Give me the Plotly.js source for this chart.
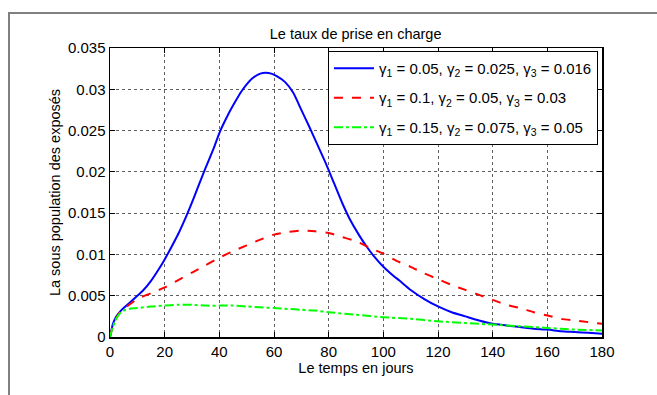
<!DOCTYPE html>
<html>
<head>
<meta charset="utf-8">
<script src="https://cdn.plot.ly/plotly-3.0.1.min.js"></script>
<style>
  html, body { margin: 0; padding: 0; background: #fff; }
  #wrap { position: relative; width: 657px; height: 395px; overflow: hidden; }
  #frame { position: absolute; left: 8px; top: 12px; width: 700px; height: 500px;
           border-top: 2px solid #808080; border-left: 2px solid #808080; box-sizing: border-box; }
  #chart { position: absolute; left: 0; top: 0; width: 657px; height: 395px; }
</style>
</head>
<body>
<div id="wrap">
  <div id="frame"></div>
  <div id="chart"></div>
</div>
<script>
// Exposed sub-population over time for three treatment-rate settings
const daysBlue = [0, 1, 2, 3, 4, 5, 7, 10, 12, 15, 18, 20, 22, 25, 28, 30, 32, 35, 38, 40, 43, 46, 48, 50, 52, 55, 57, 59, 61, 64, 67, 70, 73, 76, 79, 82, 85, 88, 91, 94, 97, 100, 103, 106, 110, 115, 120, 125, 130, 135, 140, 145, 150, 155, 160, 165, 170, 175, 180];
const exposedBlue = [0, 0.0015, 0.0023, 0.0028, 0.0032, 0.0035, 0.0041, 0.0050, 0.0056, 0.0068, 0.0083, 0.0094, 0.0106, 0.0125, 0.0147, 0.0163, 0.0180, 0.0205, 0.0229, 0.0247, 0.0268, 0.0286, 0.0297, 0.0306, 0.0313, 0.0319, 0.0320, 0.0319, 0.0316, 0.0309, 0.0296, 0.0275, 0.0254, 0.0232, 0.0210, 0.0186, 0.0162, 0.0141, 0.0124, 0.0109, 0.0096, 0.0085, 0.0076, 0.0068, 0.0057, 0.0046, 0.0037, 0.0030, 0.0025, 0.0020, 0.0016, 0.0014, 0.0012, 0.0010, 0.0009, 0.0007, 0.0006, 0.0005, 0.0004];

const daysRed = [0, 1, 2, 3, 4, 5, 7, 10, 15, 20, 25, 30, 35, 40, 45, 50, 55, 60, 65, 70, 75, 80, 85, 90, 95, 100, 105, 110, 115, 120, 125, 130, 135, 140, 145, 150, 155, 160, 165, 170, 175, 180];
const exposedRed = [0, 0.0013, 0.0021, 0.0027, 0.0031, 0.0034, 0.0039, 0.0046, 0.0053, 0.0060, 0.0069, 0.0078, 0.0087, 0.0096, 0.0104, 0.0111, 0.0118, 0.0124, 0.0127, 0.0129, 0.0128, 0.0126, 0.0121, 0.0116, 0.0108, 0.0101, 0.0092, 0.0085, 0.0077, 0.0070, 0.0063, 0.0057, 0.0051, 0.0045, 0.0039, 0.0035, 0.0030, 0.0026, 0.0022, 0.0020, 0.0018, 0.0016];

const daysGreen = [0, 1, 2, 3, 4, 5, 7, 10, 15, 20, 25, 30, 35, 40, 45, 50, 55, 60, 65, 70, 75, 80, 90, 100, 110, 120, 130, 140, 150, 160, 170, 180];
const exposedGreen = [0, 0.0012, 0.0020, 0.0026, 0.0030, 0.0032, 0.0034, 0.0035, 0.0037, 0.0038, 0.0039, 0.0039, 0.0038, 0.0038, 0.0038, 0.0037, 0.0036, 0.0035, 0.0034, 0.0033, 0.0032, 0.0030, 0.0027, 0.0024, 0.0022, 0.0019, 0.0017, 0.0015, 0.0013, 0.0011, 0.0009, 0.0008];

const seriesNames = [
  'γ<sub>1</sub> = 0.05, γ<sub>2</sub> = 0.025, γ<sub>3</sub> = 0.016',
  'γ<sub>1</sub> = 0.1, γ<sub>2</sub> = 0.05, γ<sub>3</sub> = 0.03',
  'γ<sub>1</sub> = 0.15, γ<sub>2</sub> = 0.075, γ<sub>3</sub> = 0.05'
];

const xTicks = [0, 20, 40, 60, 80, 100, 120, 140, 160, 180];
const yTicks = [0, 0.005, 0.01, 0.015, 0.02, 0.025, 0.03, 0.035];
const yTickText = ['0', '0.005', '0.01', '0.015', '0.02', '0.025', '0.03', '0.035'];

const FONT = '"Liberation Sans", Arial, sans-serif';

const traces = [
  { x: daysBlue, y: exposedBlue, name: seriesNames[0], legendgroup: 'a', mode: 'lines',
    line: { color: '#0000ff', width: 2, shape: 'spline', smoothing: 0.6 } },
  { x: daysRed, y: exposedRed, name: seriesNames[1], legendgroup: 'b', mode: 'lines',
    line: { color: '#ff0000', width: 2, dash: 'dash', shape: 'spline', smoothing: 0.6 } },
  { x: daysGreen, y: exposedGreen, name: seriesNames[2], legendgroup: 'c', mode: 'lines',
    line: { color: '#00ff00', width: 2, dash: 'dashdot', shape: 'spline', smoothing: 0.6 } }
];

const axisCommon = {
  showline: true, mirror: 'ticks', linecolor: '#000', linewidth: 1.5,
  ticks: 'inside', ticklen: 5, tickcolor: '#000', tickwidth: 1,
  showgrid: true, gridcolor: '#606060', griddash: 'dot', gridwidth: 1,
  zeroline: false, tickfont: { family: FONT, size: 15, color: '#000' }
};

const layout = {
  width: 657, height: 395,
  paper_bgcolor: 'rgba(0,0,0,0)', plot_bgcolor: '#fff',
  margin: { l: 110, r: 55, t: 48, b: 58 },
  font: { family: FONT, size: 15, color: '#000' },
  title: { text: 'Le taux de prise en charge', font: { family: FONT, size: 14.5, color: '#000' },
           x: 0.5413, xanchor: 'center', y: 0.915, yanchor: 'middle' },
  xaxis: Object.assign({}, axisCommon, {
    range: [0, 180], tickvals: xTicks,
    title: { text: 'Le temps en jours', font: { family: FONT, size: 14.5 }, standoff: 4 }
  }),
  yaxis: Object.assign({}, axisCommon, {
    range: [0, 0.035], tickvals: yTicks, ticktext: yTickText,
    title: { text: 'La sous population des exposés', font: { family: FONT, size: 14.5 }, standoff: 4 }
  }),
  showlegend: true,
  legend: {
    x: 0.443, y: 0.99, xanchor: 'left', yanchor: 'top',
    bgcolor: '#fff', bordercolor: '#000', borderwidth: 1,
    font: { family: FONT, size: 15, color: '#000' },
    tracegroupgap: 7, traceorder: 'grouped', itemwidth: 40
  }
};

Plotly.newPlot('chart', traces, layout, { displayModeBar: false, staticPlot: true });
</script>
</body>
</html>
